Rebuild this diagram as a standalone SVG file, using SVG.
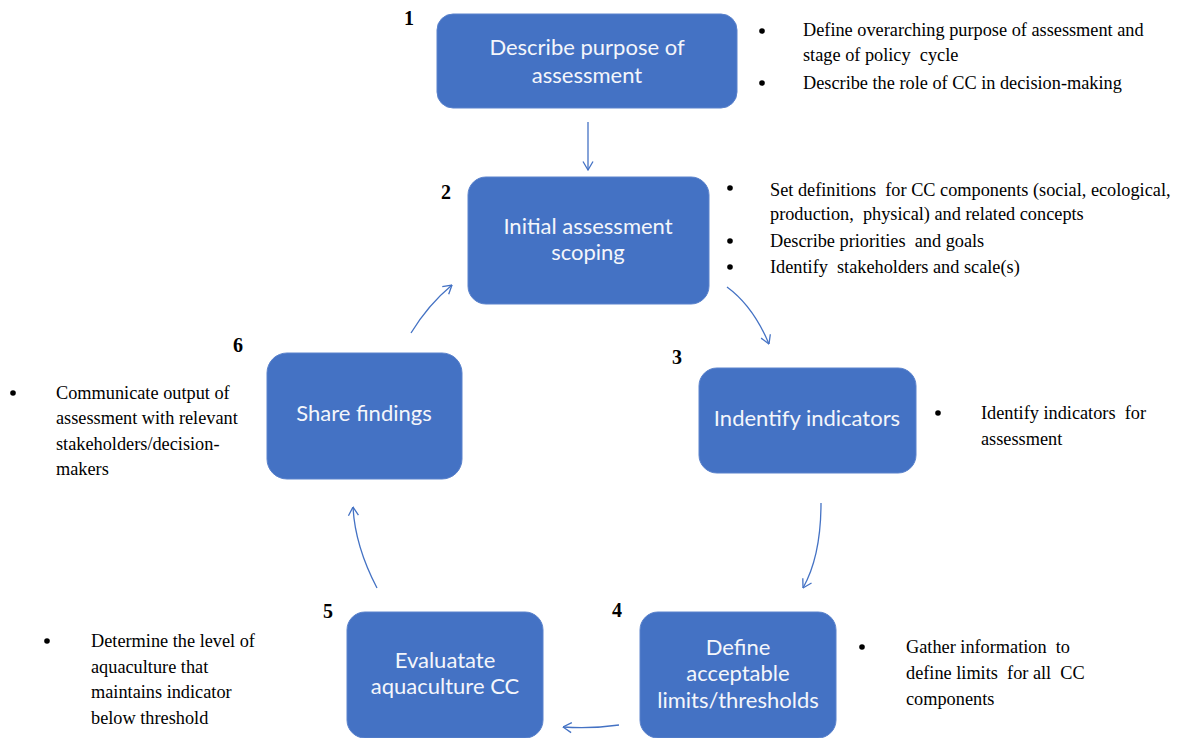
<svg xmlns="http://www.w3.org/2000/svg" width="1181" height="738" viewBox="0 0 1181 738">
  <style>
    .box { fill: #4472C4; stroke: #5a82cc; stroke-width: 1; }
    .lbl { font-family: Lato, "Open Sans", sans-serif; font-size: 22px; fill: #f4f6fb; text-anchor: middle; }
    .num { font-family: "Liberation Serif", serif; font-size: 20px; font-weight: bold; fill: #000; }
    .note { font-family: "Liberation Serif", serif; font-size: 18.3px; fill: #000; white-space: pre; }
    .dot { fill: #000; }
    .conn { fill: none; stroke: #4472C4; stroke-width: 1.3; marker-end: url(#open); }
  </style>
  <defs>
    <marker id="open" viewBox="0 0 10 12" refX="9.5" refY="6" markerWidth="10" markerHeight="12" markerUnits="userSpaceOnUse" orient="auto">
      <path d="M1,1 L9.5,6 L1,11" fill="none" stroke="#4472C4" stroke-width="1.3"/>
    </marker>
  </defs>
  <rect width="1181" height="738" fill="#fff"/>

  <!-- connectors -->
  <g id="connectors">
    <path class="conn" d="M588,122 L588,170"/>
    <path class="conn" d="M727,287 Q753,306 769,344"/>
    <path class="conn" d="M821,503 Q821,556 803,588"/>
    <path class="conn" d="M619,725 Q591,729 563,727"/>
    <path class="conn" d="M377,588 Q355,546 353,507"/>
    <path class="conn" d="M411,333 Q428,305 452,285"/>
  </g>

  <!-- step 1 -->
  <g id="node1" xml:space="preserve">
    <rect class="box" x="437" y="14" width="300" height="94" rx="16"/>
    <text class="lbl" x="587" y="55">Describe purpose of</text>
    <text class="lbl" x="587" y="83">assessment</text>
    <text class="num" x="404" y="25">1</text>
    <circle class="dot" cx="762" cy="31" r="2.8"/>
    <circle class="dot" cx="762" cy="83" r="2.8"/>
    <text class="note" x="803" y="36">Define overarching purpose of assessment and</text>
    <text class="note" x="803" y="61">stage of policy  cycle</text>
    <text class="note" x="803" y="89">Describe the role of CC in decision-making</text>
  </g>

  <!-- step 2 -->
  <g id="node2" xml:space="preserve">
    <rect class="box" x="468" y="177" width="241" height="127" rx="18"/>
    <text class="lbl" x="588" y="234">Initial assessment</text>
    <text class="lbl" x="588" y="260">scoping</text>
    <text class="num" x="441" y="199">2</text>
    <circle class="dot" cx="730" cy="188" r="2.8"/>
    <circle class="dot" cx="730" cy="241" r="2.8"/>
    <circle class="dot" cx="730" cy="267" r="2.8"/>
    <text class="note" x="770" y="196">Set definitions  for CC components (social, ecological,</text>
    <text class="note" x="770" y="220">production,  physical) and related concepts</text>
    <text class="note" x="770" y="247">Describe priorities  and goals</text>
    <text class="note" x="770" y="273">Identify  stakeholders and scale(s)</text>
  </g>

  <!-- step 3 -->
  <g id="node3" xml:space="preserve">
    <rect class="box" x="699" y="368" width="217" height="105" rx="18"/>
    <text class="lbl" x="807" y="426">Indentify indicators</text>
    <text class="num" x="672" y="364">3</text>
    <circle class="dot" cx="938" cy="413" r="2.8"/>
    <text class="note" x="981" y="419">Identify indicators  for</text>
    <text class="note" x="981" y="445">assessment</text>
  </g>

  <!-- step 4 -->
  <g id="node4" xml:space="preserve">
    <rect class="box" x="640" y="612" width="196" height="126" rx="18"/>
    <text class="lbl" x="738" y="655">Define</text>
    <text class="lbl" x="738" y="681">acceptable</text>
    <text class="lbl" x="738" y="708">limits/thresholds</text>
    <text class="num" x="612" y="617">4</text>
    <circle class="dot" cx="862" cy="647" r="2.8"/>
    <text class="note" x="906" y="653">Gather information  to</text>
    <text class="note" x="906" y="679">define limits  for all  CC</text>
    <text class="note" x="906" y="705">components</text>
  </g>

  <!-- step 5 -->
  <g id="node5" xml:space="preserve">
    <rect class="box" x="347" y="612" width="196" height="126" rx="18"/>
    <text class="lbl" x="445" y="668">Evaluatate</text>
    <text class="lbl" x="445" y="694">aquaculture CC</text>
    <text class="num" x="323" y="618">5</text>
    <circle class="dot" cx="47" cy="641" r="2.8"/>
    <text class="note" x="91" y="647">Determine the level of</text>
    <text class="note" x="91" y="673">aquaculture that</text>
    <text class="note" x="91" y="698">maintains indicator</text>
    <text class="note" x="91" y="724">below threshold</text>
  </g>

  <!-- step 6 -->
  <g id="node6" xml:space="preserve">
    <rect class="box" x="267" y="353" width="195" height="126" rx="20"/>
    <text class="lbl" x="364" y="421">Share findings</text>
    <text class="num" x="233" y="352">6</text>
    <circle class="dot" cx="13" cy="393" r="2.8"/>
    <text class="note" x="56" y="399">Communicate output of</text>
    <text class="note" x="56" y="424">assessment with relevant</text>
    <text class="note" x="56" y="450">stakeholders/decision-</text>
    <text class="note" x="56" y="475">makers</text>
  </g>
</svg>
